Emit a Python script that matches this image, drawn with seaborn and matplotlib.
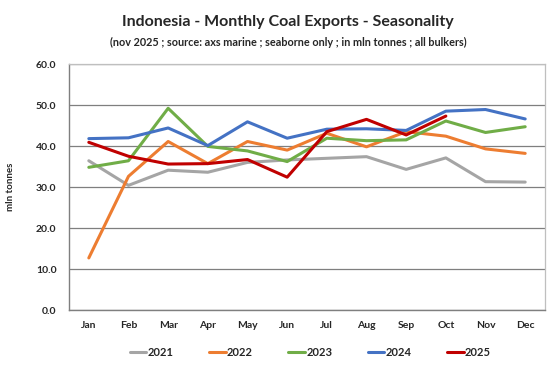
import numpy as np
import pandas as pd
import matplotlib
matplotlib.use("Agg")
import matplotlib.pyplot as plt
import seaborn as sns

# Data (mln tonnes)
months = ['Jan', 'Feb', 'Mar', 'Apr', 'May', 'Jun', 'Jul', 'Aug', 'Sep', 'Oct', 'Nov', 'Dec']
years = ['2021', '2022', '2023', '2024', '2025']
y2021 = [36.4, 30.4, 34.1, 33.6, 36.0, 36.6, 37.0, 37.4, 34.3, 37.1, 31.3, 31.2]
y2022 = [12.7, 32.6, 41.1, 35.7, 41.1, 39.0, 43.1, 39.8, 43.5, 42.4, 39.3, 38.2]
y2023 = [34.8, 36.4, 49.2, 39.9, 38.8, 36.2, 41.9, 41.3, 41.5, 46.1, 43.3, 44.7]
y2024 = [41.8, 42.0, 44.4, 40.1, 45.9, 41.9, 44.1, 44.2, 43.8, 48.5, 48.9, 46.6]
y2025 = [40.9, 37.5, 35.6, 35.7, 36.7, 32.4, 43.5, 46.5, 42.7, 47.3]
colors = ['#A5A5A5', '#ED7D31', '#70AD47', '#4472C4', '#C00000']

series = [y2021, y2022, y2023, y2024, y2025]
rows = []
for yr, vals in zip(years, series):
    for i, v in enumerate(vals):
        rows.append({'month': i, 'value': v, 'year': yr})
df = pd.DataFrame(rows)

sns.set_style("white")
plt.rcParams['font.family'] = ['Lato', 'DejaVu Sans']
plt.rcParams['font.weight'] = 'bold'

fig = plt.figure(figsize=(5.54, 3.67), dpi=100)
ax = fig.add_axes([0.1245, 0.1553, 0.8593, 0.6703])

sns.lineplot(data=df, x='month', y='value', hue='year', palette=colors,
             linewidth=2.2, ax=ax, legend=False)

ax.set_xlim(-0.5, 11.5)
ax.set_ylim(0, 60)
ax.set_yticks(np.arange(0, 61, 10))
ax.set_yticklabels([f'{t:.1f}' for t in np.arange(0, 61, 10)], fontsize=7.5, fontweight='bold')
ax.set_xticks(range(12))
ax.set_xticklabels(months, fontsize=7.5, fontweight='bold')
ax.tick_params(axis='y', length=0, pad=9)
ax.tick_params(axis='x', length=0, pad=8)
ax.yaxis.grid(True, color='#7F7F7F', linewidth=0.9)
ax.set_axisbelow(True)
for side in ['left', 'bottom']:
    ax.spines[side].set_color('#7F7F7F')
    ax.spines[side].set_linewidth(1.0)
for side in ['top', 'right']:
    ax.spines[side].set_color('#BFBFBF')
    ax.spines[side].set_linewidth(0.9)
ax.set_xlabel('')
ax.set_ylabel('mln tonnes', fontsize=7, fontweight='bold')
ax.yaxis.set_label_coords(-0.113, 0.5)

fig.text(0.52, 0.94, 'Indonesia - Monthly Coal Exports - Seasonality',
         ha='center', va='center', fontsize=11.5, fontweight='bold')
fig.text(0.52, 0.885, '(nov 2025 ; source: axs marine ; seaborne only ; in mln tonnes ; all bulkers)',
         ha='center', va='center', fontsize=7.8, fontweight='bold')

handles = [plt.Line2D([0], [0], color=c, linewidth=2.2) for c in colors]
fig.legend(handles, years, loc='center', bbox_to_anchor=(0.56, 0.04), ncol=5,
           frameon=False, handlelength=1.5, handletextpad=0.1, columnspacing=3.2,
           prop={'size': 8, 'weight': 'bold'})

fig.savefig('out.png', dpi=100)
